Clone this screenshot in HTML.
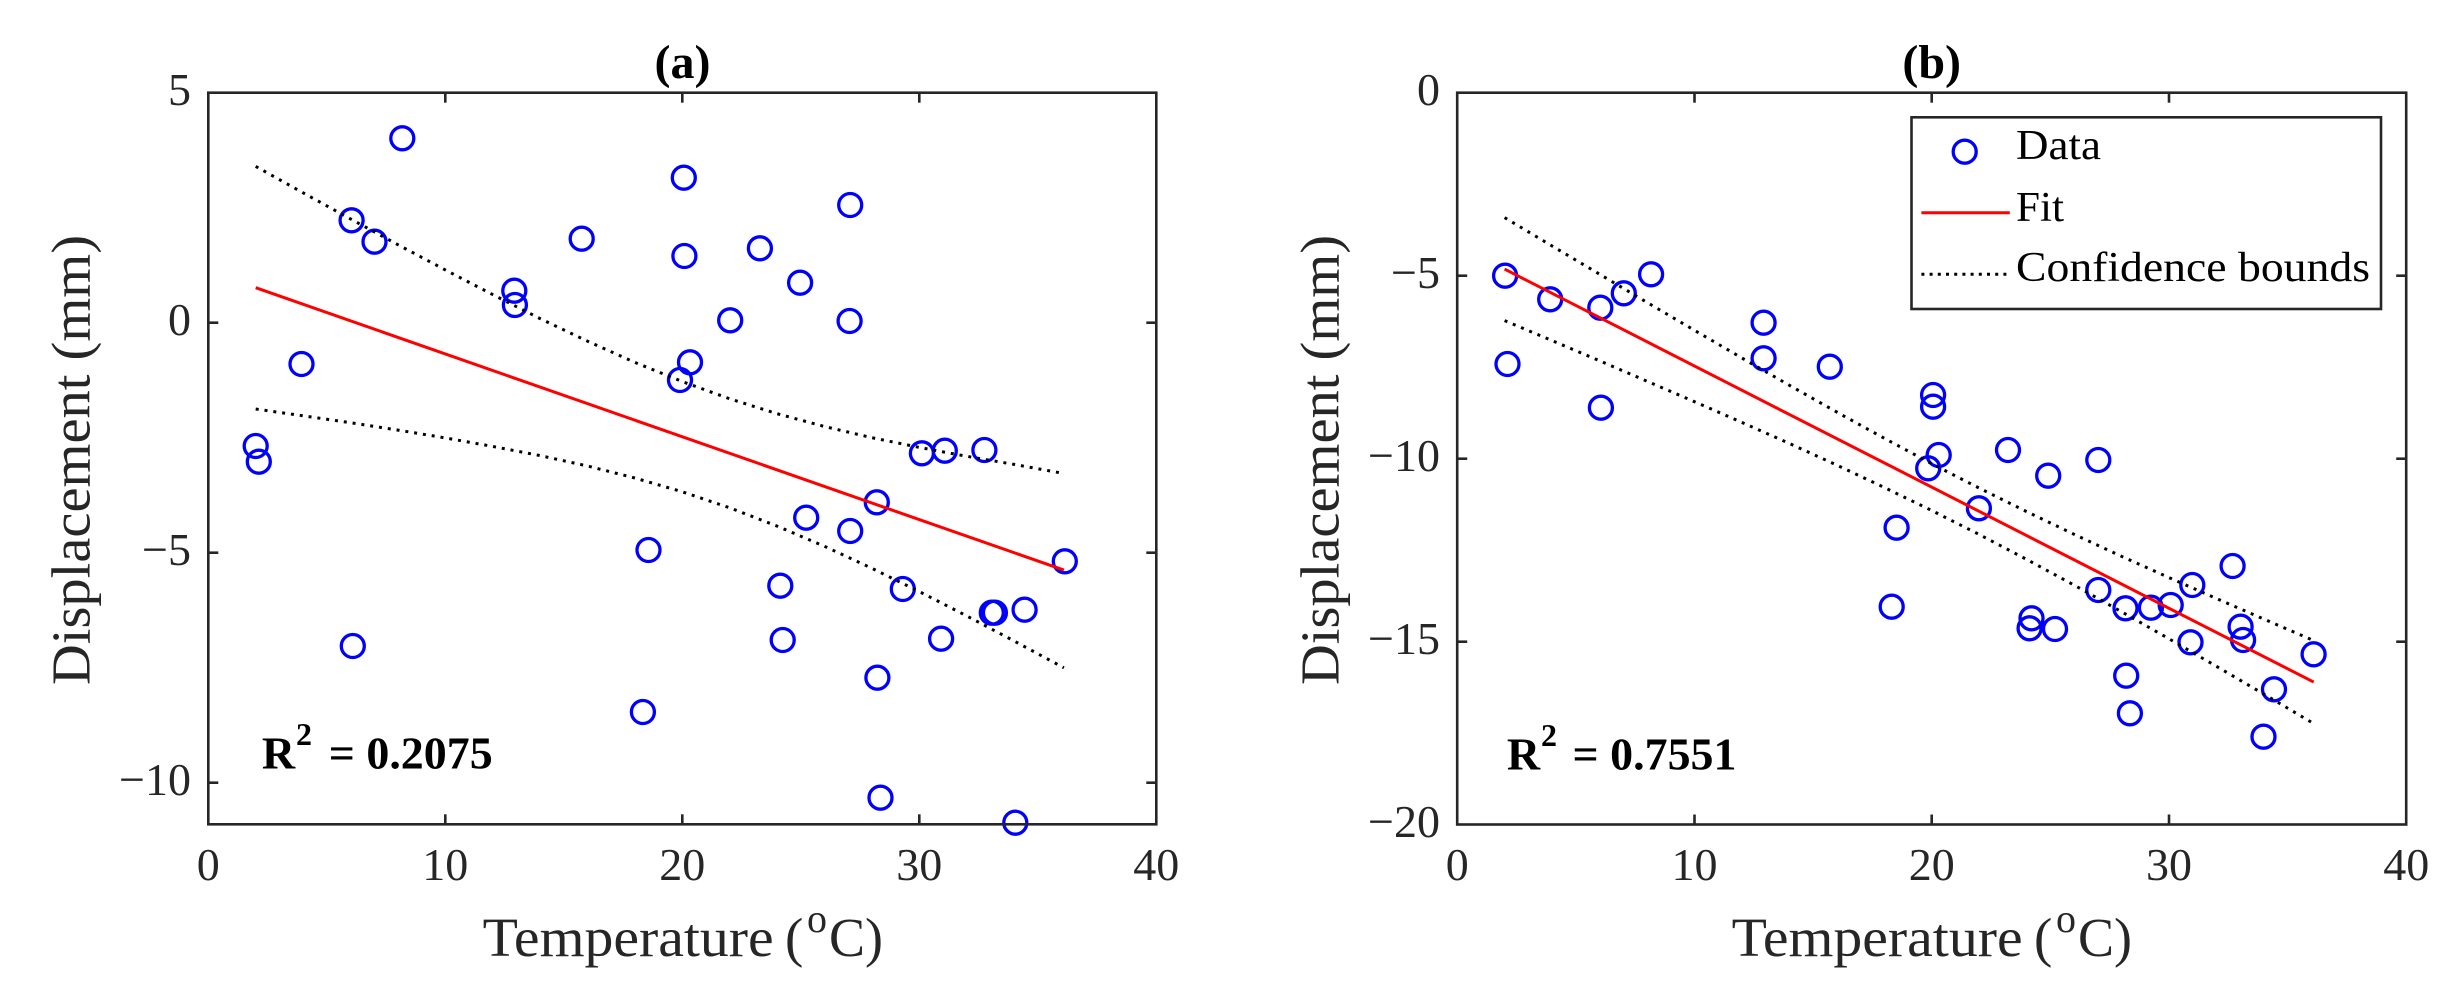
<!DOCTYPE html>
<html>
<head>
<meta charset="utf-8">
<style>
html,body{margin:0;padding:0;background:#fff;}
svg{display:block;}
text{font-family:"Liberation Serif",serif;}
</style>
</head>
<body>
<svg xmlns="http://www.w3.org/2000/svg" width="2463" height="1004" viewBox="0 0 2463 1004">
<rect x="0" y="0" width="2463" height="1004" fill="#fff"/>

<!-- ================= PANEL (a) ================= -->
<g fill="none" stroke="#0000ff" stroke-width="3.3">
<circle cx="402.3" cy="138.3" r="11.5"/>
<circle cx="683.8" cy="177.7" r="11.5"/>
<circle cx="850.2" cy="205" r="11.5"/>
<circle cx="351.6" cy="220.3" r="11.5"/>
<circle cx="374.5" cy="241.7" r="11.5"/>
<circle cx="581.7" cy="238.7" r="11.5"/>
<circle cx="684.4" cy="256" r="11.5"/>
<circle cx="759.9" cy="248.3" r="11.5"/>
<circle cx="800.1" cy="282.7" r="11.5"/>
<circle cx="514.3" cy="290.7" r="11.5"/>
<circle cx="514.9" cy="305" r="11.5"/>
<circle cx="730.2" cy="320.3" r="11.5"/>
<circle cx="849.6" cy="321" r="11.5"/>
<circle cx="301.5" cy="364" r="11.5"/>
<circle cx="690" cy="362.3" r="11.5"/>
<circle cx="680" cy="380" r="11.5"/>
<circle cx="255.7" cy="446" r="11.5"/>
<circle cx="258.8" cy="461.7" r="11.5"/>
<circle cx="921.9" cy="453.3" r="11.5"/>
<circle cx="944.8" cy="450.7" r="11.5"/>
<circle cx="984.4" cy="450" r="11.5"/>
<circle cx="876.8" cy="502.3" r="11.5"/>
<circle cx="806.2" cy="517.7" r="11.5"/>
<circle cx="850.2" cy="531" r="11.5"/>
<circle cx="648.5" cy="550" r="11.5"/>
<circle cx="1064.8" cy="561.3" r="11.5"/>
<circle cx="780.3" cy="585.7" r="11.5"/>
<circle cx="902.8" cy="589" r="11.5"/>
<circle cx="991.8" cy="612.7" r="11.5"/>
<circle cx="994.9" cy="612.7" r="11.5"/>
<circle cx="1024.6" cy="609.7" r="11.5"/>
<circle cx="352.8" cy="646" r="11.5"/>
<circle cx="782.7" cy="640" r="11.5"/>
<circle cx="941.1" cy="638.7" r="11.5"/>
<circle cx="877.4" cy="677.7" r="11.5"/>
<circle cx="642.9" cy="712" r="11.5"/>
<circle cx="880.5" cy="797.7" r="11.5"/>
<circle cx="1015.3" cy="822.7" r="11.5"/>
</g>
<line x1="255.7" y1="287.7" x2="1063.9" y2="570.1" stroke="#ff0000" stroke-width="3"/>
<g fill="none" stroke="#000" stroke-width="3" stroke-dasharray="3 5.9">
<polyline points="255.7,166.4 303.1,192.8 350.5,218.9 397.9,244.7 445.3,269.9 492.7,294.6 540.1,318.6 587.5,341.2 634.9,362.4 682.3,381.6 729.7,398.8 777.1,413.7 824.5,426.5 871.9,437.7 919.3,447.4 966.7,456.3 1014.1,464.4 1063.9,473.5"/>
<polyline points="255.7,409.0 303.1,415.8 350.5,422.7 397.9,430.1 445.3,437.9 492.7,446.4 540.1,455.6 587.5,466.0 634.9,478.0 682.3,491.8 729.7,507.8 777.1,526.1 824.5,546.3 871.9,568.3 919.3,591.6 966.7,615.9 1014.1,641.0 1063.9,667.8"/>
</g>

<!-- axes frame (a) -->
<rect x="208.3" y="92.7" width="948" height="731.6" fill="none" stroke="#262626" stroke-width="2.6"/>
<g stroke="#262626" stroke-width="2.6">
<line x1="445.3" y1="824.3" x2="445.3" y2="814.3"/>
<line x1="682.3" y1="824.3" x2="682.3" y2="814.3"/>
<line x1="919.3" y1="824.3" x2="919.3" y2="814.3"/>
<line x1="445.3" y1="92.7" x2="445.3" y2="102.7"/>
<line x1="682.3" y1="92.7" x2="682.3" y2="102.7"/>
<line x1="919.3" y1="92.7" x2="919.3" y2="102.7"/>
<line x1="208.3" y1="322.7" x2="218.3" y2="322.7"/>
<line x1="208.3" y1="552.7" x2="218.3" y2="552.7"/>
<line x1="208.3" y1="782.7" x2="218.3" y2="782.7"/>
<line x1="1156.3" y1="322.7" x2="1146.3" y2="322.7"/>
<line x1="1156.3" y1="552.7" x2="1146.3" y2="552.7"/>
<line x1="1156.3" y1="782.7" x2="1146.3" y2="782.7"/>
</g>
<g fill="#262626" font-size="46" text-anchor="middle">
<text x="208.3" y="880">0</text>
<text x="445.3" y="880">10</text>
<text x="682.3" y="880">20</text>
<text x="919.3" y="880">30</text>
<text x="1156.3" y="880">40</text>
</g>
<g fill="#262626" font-size="46" text-anchor="end">
<text x="191" y="105.2">5</text>
<text x="191" y="335.2">0</text>
<text x="191" y="565.2">−5</text>
<text x="191" y="795.2">−10</text>
</g>
<text x="682.5" y="78" font-size="48" font-weight="bold" text-anchor="middle" fill="#000">(a)</text>
<g fill="#262626">
<text x="482.7" y="956" font-size="55" textLength="291" lengthAdjust="spacingAndGlyphs">Temperature</text>
<text x="785" y="956" font-size="55">(</text>
<text x="807" y="932" font-size="40">o</text>
<text x="829" y="956" font-size="55" textLength="54" lengthAdjust="spacingAndGlyphs">C)</text>
<text transform="translate(89.3,460) rotate(-90)" x="0" y="0" font-size="55" text-anchor="middle" textLength="450" lengthAdjust="spacingAndGlyphs">Displacement (mm)</text>
</g>
<g fill="#000" font-weight="bold">
<text x="261.9" y="768.3" font-size="46">R</text>
<text x="296" y="745" font-size="32">2</text>
<text x="328.7" y="768.3" font-size="46" textLength="164" lengthAdjust="spacingAndGlyphs">= 0.2075</text>
</g>

<!-- ================= PANEL (b) ================= -->
<g fill="none" stroke="#0000ff" stroke-width="3.3">
<circle cx="1505.1" cy="275.7" r="11.5"/>
<circle cx="1507.5" cy="364" r="11.5"/>
<circle cx="1550.2" cy="299.3" r="11.5"/>
<circle cx="1600.3" cy="307.7" r="11.5"/>
<circle cx="1600.9" cy="407.7" r="11.5"/>
<circle cx="1623.8" cy="293.3" r="11.5"/>
<circle cx="1651.1" cy="274.3" r="11.5"/>
<circle cx="1763.6" cy="322.7" r="11.5"/>
<circle cx="1763.6" cy="358.3" r="11.5"/>
<circle cx="1829.8" cy="366.7" r="11.5"/>
<circle cx="1933.1" cy="395" r="11.5"/>
<circle cx="1933.1" cy="406.7" r="11.5"/>
<circle cx="1938.7" cy="455" r="11.5"/>
<circle cx="1928.2" cy="468.3" r="11.5"/>
<circle cx="2008" cy="450" r="11.5"/>
<circle cx="2098.3" cy="460" r="11.5"/>
<circle cx="2048.2" cy="475.7" r="11.5"/>
<circle cx="1978.9" cy="508.3" r="11.5"/>
<circle cx="1896.6" cy="527.7" r="11.5"/>
<circle cx="1891.7" cy="606.7" r="11.5"/>
<circle cx="2232.6" cy="566" r="11.5"/>
<circle cx="2192.3" cy="585" r="11.5"/>
<circle cx="2098.3" cy="590" r="11.5"/>
<circle cx="2125.5" cy="608.3" r="11.5"/>
<circle cx="2150.9" cy="607.7" r="11.5"/>
<circle cx="2170.7" cy="605" r="11.5"/>
<circle cx="2031.5" cy="618.3" r="11.5"/>
<circle cx="2029.6" cy="628.3" r="11.5"/>
<circle cx="2055" cy="629" r="11.5"/>
<circle cx="2240.6" cy="626.7" r="11.5"/>
<circle cx="2243.1" cy="640" r="11.5"/>
<circle cx="2190.5" cy="642.3" r="11.5"/>
<circle cx="2313.6" cy="654.3" r="11.5"/>
<circle cx="2126.2" cy="675.7" r="11.5"/>
<circle cx="2274" cy="689.3" r="11.5"/>
<circle cx="2129.9" cy="713.3" r="11.5"/>
<circle cx="2263.5" cy="736.7" r="11.5"/>
</g>
<line x1="1504.6" y1="269.1" x2="2313.7" y2="682.1" stroke="#ff0000" stroke-width="3"/>
<g fill="none" stroke="#000" stroke-width="3" stroke-dasharray="3 5.9">
<polyline points="1504.6,217.6 1552.1,246.0 1599.6,274.2 1647.0,302.4 1694.5,330.3 1741.9,358.0 1789.4,385.3 1836.8,412.1 1884.3,438.3 1931.7,463.7 1979.2,488.1 2026.6,511.6 2074.1,534.3 2121.5,556.3 2169.0,577.6 2216.4,598.5 2263.9,619.1 2313.7,640.6"/>
<polyline points="1504.6,320.6 1552.1,340.6 1599.6,360.8 1647.0,381.2 1694.5,401.7 1741.9,422.4 1789.4,443.5 1836.8,465.1 1884.3,487.5 1931.7,510.5 1979.2,534.5 2026.6,559.4 2074.1,585.1 2121.5,611.7 2169.0,638.8 2216.4,666.3 2263.9,694.1 2313.7,723.6"/>
</g>

<!-- axes frame (b) -->
<rect x="1457.2" y="92.7" width="949" height="731.8" fill="none" stroke="#262626" stroke-width="2.6"/>
<g stroke="#262626" stroke-width="2.6">
<line x1="1694.5" y1="824.5" x2="1694.5" y2="814.5"/>
<line x1="1931.7" y1="824.5" x2="1931.7" y2="814.5"/>
<line x1="2169.0" y1="824.5" x2="2169.0" y2="814.5"/>
<line x1="1694.5" y1="92.7" x2="1694.5" y2="102.7"/>
<line x1="1931.7" y1="92.7" x2="1931.7" y2="102.7"/>
<line x1="2169.0" y1="92.7" x2="2169.0" y2="102.7"/>
<line x1="1457.2" y1="275.7" x2="1467.2" y2="275.7"/>
<line x1="1457.2" y1="458.7" x2="1467.2" y2="458.7"/>
<line x1="1457.2" y1="641.7" x2="1467.2" y2="641.7"/>
<line x1="2406.2" y1="275.7" x2="2396.2" y2="275.7"/>
<line x1="2406.2" y1="458.7" x2="2396.2" y2="458.7"/>
<line x1="2406.2" y1="641.7" x2="2396.2" y2="641.7"/>
</g>
<g fill="#262626" font-size="46" text-anchor="middle">
<text x="1457.2" y="880">0</text>
<text x="1694.5" y="880">10</text>
<text x="1931.7" y="880">20</text>
<text x="2169.0" y="880">30</text>
<text x="2406.2" y="880">40</text>
</g>
<g fill="#262626" font-size="46" text-anchor="end">
<text x="1440" y="105.2">0</text>
<text x="1440" y="288.2">−5</text>
<text x="1440" y="471.2">−10</text>
<text x="1440" y="654.2">−15</text>
<text x="1440" y="837.2">−20</text>
</g>
<text x="1931.7" y="78" font-size="48" font-weight="bold" text-anchor="middle" fill="#000">(b)</text>
<g fill="#262626">
<text x="1731.6" y="956" font-size="55" textLength="291" lengthAdjust="spacingAndGlyphs">Temperature</text>
<text x="2034" y="956" font-size="55">(</text>
<text x="2056" y="932" font-size="40">o</text>
<text x="2078" y="956" font-size="55" textLength="54" lengthAdjust="spacingAndGlyphs">C)</text>
<text transform="translate(1338.3,460) rotate(-90)" x="0" y="0" font-size="55" text-anchor="middle" textLength="450" lengthAdjust="spacingAndGlyphs">Displacement (mm)</text>
</g>
<g fill="#000" font-weight="bold">
<text x="1506.9" y="769.3" font-size="46">R</text>
<text x="1541" y="746" font-size="32">2</text>
<text x="1572.5" y="769.3" font-size="46" textLength="164" lengthAdjust="spacingAndGlyphs">= 0.7551</text>
</g>

<!-- legend -->
<rect x="1911.5" y="117.3" width="469.5" height="191.7" fill="#fff" stroke="#262626" stroke-width="2.6"/>
<circle cx="1964.7" cy="151.7" r="11.5" fill="none" stroke="#0000ff" stroke-width="3.3"/>
<line x1="1921.4" y1="212.7" x2="2009.8" y2="212.7" stroke="#ff0000" stroke-width="3"/>
<line x1="1921.4" y1="274.3" x2="2009.8" y2="274.3" stroke="#000" stroke-width="3" stroke-dasharray="3 5.2"/>
<g fill="#000" font-size="42">
<text x="2016" y="159" textLength="85" lengthAdjust="spacingAndGlyphs">Data</text>
<text x="2016" y="221" textLength="48" lengthAdjust="spacingAndGlyphs">Fit</text>
<text x="2016" y="281" textLength="354" lengthAdjust="spacingAndGlyphs">Confidence bounds</text>
</g>
</svg>
</body>
</html>
